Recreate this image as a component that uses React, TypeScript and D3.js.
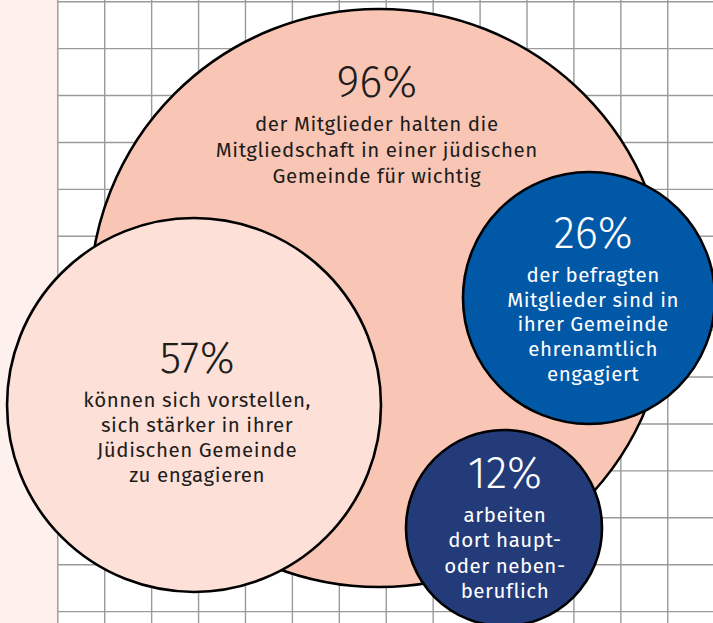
import React from "react";
import * as d3 from "d3";

const values = [96, 57, 26, 12];
const labels = [
  ["der Mitglieder halten die", "Mitgliedschaft in einer jüdischen", "Gemeinde für wichtig"],
  ["können sich vorstellen,", "sich stärker in ihrer", "Jüdischen Gemeinde", "zu engagieren"],
  ["der befragten", "Mitglieder sind in", "ihrer Gemeinde", "ehrenamtlich", "engagiert"],
  ["arbeiten", "dort haupt-", "oder neben-", "beruflich"],
];
const fills = ["#f9c6b6", "#fde0d8", "#0058a7", "#243b7a"];
const textColors = ["#1d1d1b", "#1d1d1b", "#ffffff", "#ffffff"];

// layout in grid units (cx, cy, r, textX, pctBaseline, firstLineBaseline, lineStep)
const layoutCx = [6.846, 2.903, 11.321, 9.51];
const layoutCy = [6.315, 8.595, 6.315, 11.217];
const layoutR = [6.159, 3.985, 2.685, 2.089];
const textCx = [6.80, 2.97, 11.41, 9.53];
const pctBase = [2.03, 7.91, 5.25, 10.36];
const lineBase = [2.76, 8.64, 5.97, 11.09];
const lineStep = [0.555, 0.533, 0.528, 0.54];

const W = 713;
const H = 623;
const gridSize = 46.92;
const gx0 = 57.8;
const gy0 = 1.7;

export default function App() {
  const x = d3.scaleLinear().domain([0, 1]).range([gx0, gx0 + gridSize]);
  const y = d3.scaleLinear().domain([0, 1]).range([gy0, gy0 + gridSize]);
  const k = (v: number) => v * gridSize;

  const vLines = d3.range(0, Math.ceil((W - gx0) / gridSize) + 1).map((i) => x(i));
  const hLines = d3.range(0, Math.ceil((H - gy0) / gridSize) + 1).map((i) => y(i));

  const font = "'Fira Sans', 'Noto Sans', 'Open Sans', sans-serif";

  return (
    <svg
      width={W}
      height={H}
      style={{ position: "absolute", left: 0, top: 0, display: "block" }}
    >
      <rect x={0} y={0} width={W} height={H} fill="#ffffff" />
      <rect x={0} y={0} width={gx0} height={H} fill="#fef0ec" />
      <g stroke="#9a9a9a" strokeWidth={1.4}>
        {vLines.map((v, i) => (
          <line key={"v" + i} x1={v} x2={v} y1={0} y2={H} />
        ))}
        {hLines.map((v, i) => (
          <line key={"h" + i} x1={gx0} x2={W} y1={v} y2={v} />
        ))}
      </g>
      {values.map((val, i) => (
        <g key={i}>
          <circle
            cx={x(layoutCx[i])}
            cy={y(layoutCy[i])}
            r={k(layoutR[i])}
            fill={fills[i]}
            stroke="#000"
            strokeWidth={2.6}
          />
          <text
            x={x(textCx[i])}
            y={y(pctBase[i])}
            textAnchor="middle"
            fontFamily={font}
            fontWeight={300}
            fontSize={44}
            fill={textColors[i]}
          >
            {val}%
          </text>
          {labels[i].map((ln, j) => (
            <text
              key={j}
              x={x(textCx[i])}
              y={y(lineBase[i] + j * lineStep[i])}
              textAnchor="middle"
              fontFamily={font}
              fontSize={20.5}
              letterSpacing={0.55}
              fill={textColors[i]}
            >
              {ln}
            </text>
          ))}
        </g>
      ))}
    </svg>
  );
}
